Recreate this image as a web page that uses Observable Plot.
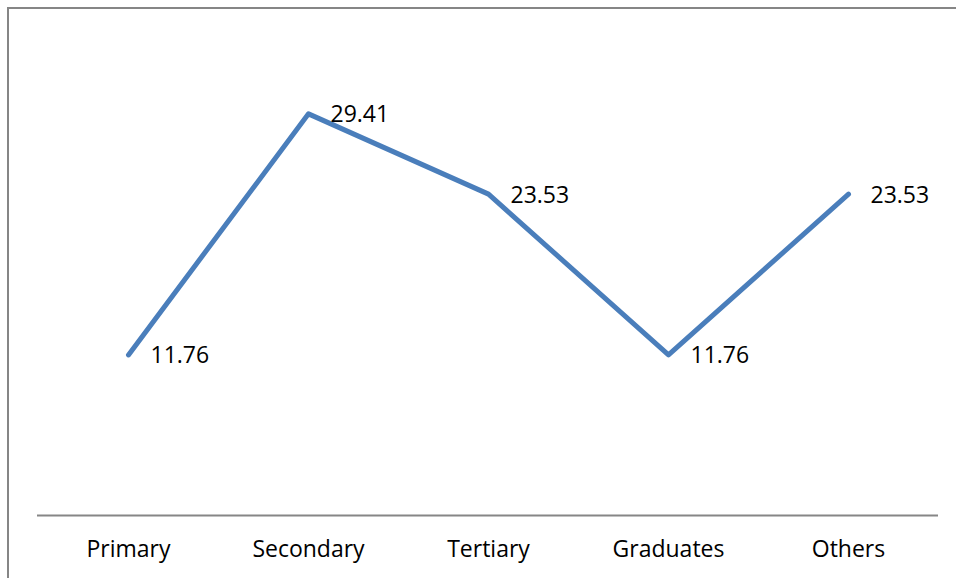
<!DOCTYPE html>
<html>
<head>
<meta charset="utf-8">
<script src="https://cdn.jsdelivr.net/npm/d3@7"></script>
<script src="https://cdn.jsdelivr.net/npm/@observablehq/plot@0.6"></script>
<style>
  html, body { margin: 0; padding: 0; background: #fff; }
  #wrap { position: relative; width: 956px; height: 578px; overflow: hidden; }
  #frame { position: absolute; left: 7px; top: 7px; width: 960px; height: 600px;
           border-left: 2px solid #868686; border-top: 2px solid #868686; box-sizing: border-box; }
  #chart { position: absolute; left: 0; top: 0; }
</style>
</head>
<body>
<div id="wrap"><div id="frame"></div><div id="chart"></div></div>
<script>
const categories = ["Primary", "Secondary", "Tertiary", "Graduates", "Others"];
const values = [11.76, 29.41, 23.53, 11.76, 23.53];
const labels = ["11.76", "29.41", "23.53", "11.76", "23.53"];

const data = categories.map((c, i) => ({category: c, value: values[i], label: labels[i]}));

const chart = Plot.plot({
  width: 956,
  height: 578,
  marginLeft: 37,
  marginRight: 18,
  marginTop: 37,
  marginBottom: 63,
  style: {fontFamily: "'Open Sans', Lato, sans-serif", background: "transparent", color: "#000"},
  x: {type: "point", domain: categories, padding: 0.5, label: null},
  y: {domain: [0, 35], axis: null},
  marks: [
    Plot.ruleY([0], {stroke: "#868686", strokeWidth: 2}),
    Plot.axisX({tickSize: 0, tickPadding: 25, fontSize: 23, label: null, fill: "#000"}),
    Plot.line(data, {x: "category", y: "value", stroke: "#4a7ebb", strokeWidth: 5, strokeLinecap: "round", strokeLinejoin: "round"}),
    Plot.text(data, {x: "category", y: "value", text: "label", textAnchor: "start", dx: 22, dy: 1, fontSize: 23, fill: "#000"})
  ]
});
document.getElementById("chart").appendChild(chart);
</script>
</body>
</html>
